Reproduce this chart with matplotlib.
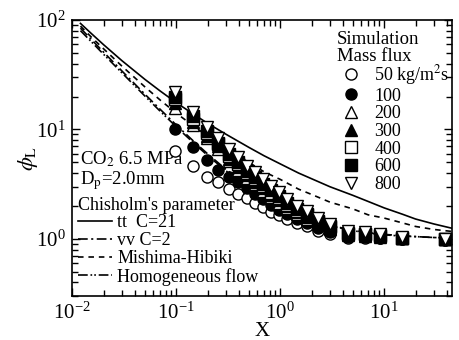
import matplotlib
matplotlib.use("Agg")
import matplotlib.pyplot as plt

plt.rcParams['font.family'] = ['Liberation Serif', 'DejaVu Serif']
plt.rcParams['mathtext.fontset'] = 'stix'
plt.rcParams['lines.scale_dashes'] = False

# ---- simulation data (X columns shared by all mass fluxes) ----
X_sim = [0.098, 0.146, 0.199, 0.253, 0.323, 0.395, 0.482, 0.575, 0.687, 0.819,
         0.977, 1.17, 1.46, 1.82, 2.32, 3.03, 4.51, 6.57, 9.15, 14.9, 38.6]
phi_50 = [6.3, 4.6, 3.7, 3.3, 2.85, 2.6, 2.35, 2.15, 1.95, 1.78,
          1.65, 1.52, 1.40, 1.30, 1.18, 1.10, 1.03, 1.02, 1.01, 0.99, 0.98]
phi_100 = [10.0, 6.9, 5.3, 4.3, 3.7, 3.3, 2.9, 2.6, 2.3, 2.05,
           1.85, 1.68, 1.52, 1.40, 1.25, 1.15, 1.05, 1.04, 1.03, 1.0, 0.98]
phi_200 = [15.8, 11.1, 8.4, 6.6, 5.1, 4.3, 3.6, 3.15, 2.75, 2.4,
           2.15, 1.9, 1.68, 1.53, 1.36, 1.23, 1.08, 1.07, 1.05, 1.01, 0.99]
phi_300 = [17.5, 11.8, 8.8, 7.0, 5.4, 4.5, 3.8, 3.3, 2.9, 2.5,
           2.25, 1.98, 1.75, 1.58, 1.40, 1.26, 1.10, 1.08, 1.06, 1.02, 0.99]
phi_400 = [19.0, 12.6, 9.2, 7.3, 5.7, 4.8, 4.0, 3.5, 3.05, 2.65,
           2.35, 2.05, 1.80, 1.64, 1.43, 1.29, 1.12, 1.10, 1.07, 1.02, 0.99]
phi_600 = [20.0, 13.2, 9.6, 7.6, 6.0, 5.0, 4.2, 3.7, 3.2, 2.8,
           2.45, 2.15, 1.88, 1.70, 1.47, 1.32, 1.14, 1.12, 1.08, 1.03, 1.0]
phi_800 = [22.0, 14.6, 10.6, 8.4, 6.6, 5.56, 4.6, 4.06, 3.51, 3.03,
           2.67, 2.31, 2.0, 1.80, 1.55, 1.38, 1.18, 1.15, 1.10, 1.04, 1.0]

flux_labels = ['50 kg/m$^2$s', '100', '200', '300', '400', '600', '800']

# ---- correlation curves ----
X_line = [0.012, 0.015, 0.02, 0.03, 0.05, 0.07, 0.1, 0.15, 0.2, 0.3, 0.5, 0.7,
          1, 1.5, 2, 3, 5, 7, 10, 15, 20, 30, 45]
phi_tt = [93.2, 76.5, 59.6, 42.6, 28.7, 22.5, 17.6, 13.6, 11.4, 9.06, 6.86, 5.75,
          4.85, 4.0, 3.55, 3.0, 2.5, 2.2, 1.92, 1.68, 1.52, 1.37, 1.25]
phi_vv = [84.3, 67.7, 51.0, 34.3, 21.0, 15.3, 11.0, 7.67, 6.0, 4.33, 3.0, 2.43,
          2.0, 1.67, 1.5, 1.33, 1.2, 1.14, 1.1, 1.07, 1.05, 1.03, 1.02]
phi_mh = [88.0, 71.0, 54.7, 38.0, 24.5, 18.6, 14.1, 10.6, 8.7, 6.7, 5.0, 4.1,
          3.5, 2.85, 2.55, 2.17, 1.88, 1.66, 1.55, 1.40, 1.30, 1.22, 1.17]
phi_hom = [80.0, 64.5, 48.7, 33.0, 20.2, 14.7, 10.6, 7.4, 5.8, 4.2, 2.95, 2.4,
           1.97, 1.65, 1.48, 1.32, 1.19, 1.13, 1.09, 1.06, 1.05, 1.03, 1.02]

line_labels = ['tt  C=21', 'vv C=2', 'Mishima-Hibiki', 'Homogeneous flow']

fig = plt.figure(figsize=(4.6, 3.4), dpi=100)
ax = fig.add_axes([0.157, 0.129, 0.826, 0.812])

lw = 1.2
l1, = ax.plot(X_line, phi_tt, color='black', lw=lw, ls='-')
l2, = ax.plot(X_line, phi_vv, color='black', lw=lw, ls=(0, (7, 2.5, 1.5, 2.5)))
l3, = ax.plot(X_line, phi_mh, color='black', lw=lw, ls=(0, (4, 3.5)))
l4, = ax.plot(X_line, phi_hom, color='black', lw=lw, ls=(0, (7, 2, 1.2, 1.5, 1.2, 2)))

series = [phi_50, phi_100, phi_200, phi_300, phi_400, phi_600, phi_800]
markers = ['o', 'o', '^', '^', 's', 's', 'v']
filled = [False, True, False, True, False, True, False]
handles = []
for ys, m, f, lab in zip(series, markers, filled, flux_labels):
    h, = ax.plot(X_sim, ys, ls='none', marker=m, ms=8,
                 mfc='black' if f else 'white', mec='black', mew=1.0,
                 label=lab, zorder=3)
    handles.append(h)

ax.set_xscale('log')
ax.set_yscale('log')
ax.set_xlim(0.01, 45)
ax.set_ylim(0.3, 100)

ax.tick_params(which='both', direction='in', top=True, right=True,
               labelsize=15, width=1.0)
ax.tick_params(which='major', length=6, pad=5)
ax.tick_params(which='minor', length=4)
for s in ax.spines.values():
    s.set_linewidth(1.2)

ax.set_xlabel('X', fontsize=15, labelpad=-2)
ax.set_ylabel(r'$\phi_{\rm L}$', fontsize=16, labelpad=-3)

# marker legend
leg1 = ax.legend(handles=handles, loc='upper left', bbox_to_anchor=(0.70, 0.845),
                 frameon=False, fontsize=13, borderpad=0, borderaxespad=0,
                 handlelength=1.4, handletextpad=0.6, labelspacing=0.04,
                 handleheight=0.7)
ax.add_artist(leg1)
ax.text(0.697, 0.962, 'Simulation', transform=ax.transAxes, fontsize=13.5,
        va='top', ha='left')
ax.text(0.697, 0.897, 'Mass flux', transform=ax.transAxes, fontsize=13.5,
        va='top', ha='left')

# line legend
leg2 = ax.legend(handles=[l1, l2, l3, l4], labels=line_labels, loc='upper left',
                 bbox_to_anchor=(0.014, 0.36), frameon=False, fontsize=13,
                 title="Chisholm's parameter", title_fontsize=13,
                 alignment='left', borderpad=0, borderaxespad=0,
                 handlelength=1.9, handletextpad=0.3, labelspacing=0.04)
leg2.set_zorder(1)

ax.text(0.021, 0.495, 'CO$_2$ 6.5 MPa', transform=ax.transAxes, fontsize=13.5,
        va='center', ha='left', zorder=1)
ax.text(0.021, 0.418, 'D$_{\\rm p}$=2.0mm', transform=ax.transAxes, fontsize=13.5,
        va='center', ha='left', zorder=1)

fig.savefig('out.png', dpi=100)
